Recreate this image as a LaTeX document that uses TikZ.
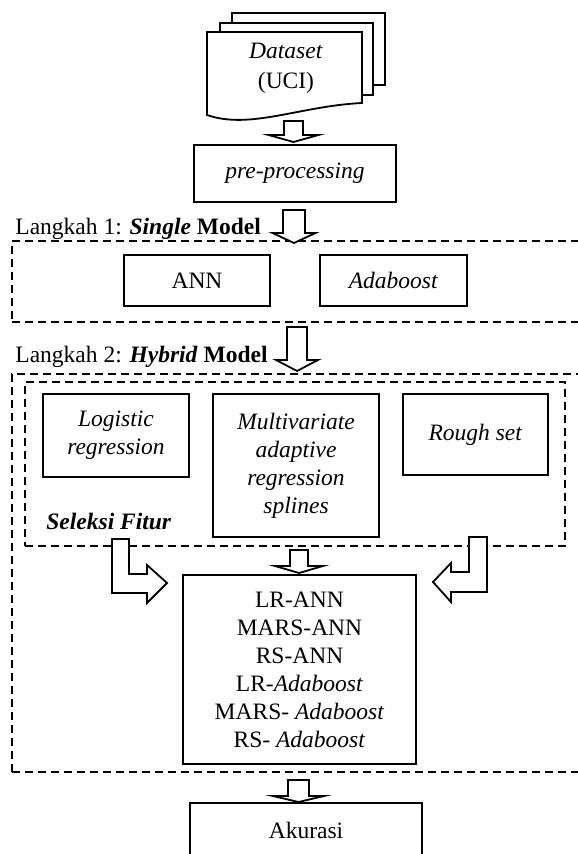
\documentclass[tikz,border=0pt]{standalone}
\usepackage{fontspec}
\setmainfont{Liberation Serif}
\usetikzlibrary{calc}

\newcommand\fs{\fontsize{11.75}{14}\selectfont}

% hollow block arrow pointing down:
% #1 centre x, #2 top of shaft, #3 start of head, #4 tip, #5 half shaft width, #6 half head width
\newcommand\blockdown[6]{%
  \draw[blockarrow] (#1-#5,#2) -- (#1+#5,#2) -- (#1+#5,#3) -- (#1+#6,#3)
    -- (#1,#4) -- (#1-#6,#3) -- (#1-#5,#3) -- cycle;}

\tikzset{
  base/.style={line width=0.9pt},
  stepbox/.style={draw, base, fill=white, align=center, inner sep=0pt, font=\fs},
  groupbox/.style={draw, base, dash pattern=on 4pt off 2.5pt, inner sep=0pt},
  blockarrow/.style={draw, base, fill=white, line join=miter},
  page/.style={draw, base, fill=white},
  label/.style={font=\fs, inner sep=0pt, anchor=base west},
}

\begin{document}
\begin{tikzpicture}[x=0.5pt, y=-0.5pt]
\useasboundingbox (0,0) rectangle (577,854);

% ---- stacked document: Dataset (UCI)
\draw[page] (232,13) rectangle (385,85);
\draw[page] (220,23) rectangle (373,95);
\draw[page] (207,32) -- (362,32) -- (362,103)
  .. controls (300,106) and (250,130) .. (207,115) -- cycle;
\node[font=\fs, align=center, inner sep=0pt] (data) at (286,68)
  {\textit{Dataset}\\[1pt](UCI)};

% ---- pre-processing
\node[stepbox, minimum width=101pt, minimum height=28.5pt] (pre) at (295,173.5)
  {\textit{pre-processing}};

% ---- step 1: single models
\node[groupbox, minimum width=284pt, minimum height=40.5pt] (step1) at (296,281.5) {};
\node[label] (step1label) at (15,235)
  {Langkah 1: \textbf{\textit{Single} Model}};
\node[stepbox, minimum width=73pt, minimum height=25.5pt] (ann) at (197,280.5) {ANN};
\node[stepbox, minimum width=73.5pt, minimum height=25.5pt] (ada) at (393.5,280.5)
  {\textit{Adaboost}};

% ---- step 2: hybrid models
\node[groupbox, minimum width=284pt, minimum height=199pt] (step2) at (296,573) {};
\node[label] (step2label) at (15,363)
  {Langkah 2: \textbf{\textit{Hybrid} Model}};
\node[groupbox, minimum width=270pt, minimum height=82pt] (fs) at (295,464) {};
\node[label] (fslabel) at (46,529) {\textbf{\textit{Seleksi Fitur}}};

\node[stepbox, minimum width=73pt, minimum height=41.5pt] (lr) at (116,435.5)
  {\textit{Logistic}\\\textit{regression}};
\node[stepbox, minimum width=83pt, minimum height=71.5pt] (mars) at (296,465.5)
  {\textit{Multivariate}\\\textit{adaptive}\\\textit{regression}\\\textit{splines}};
\node[stepbox, minimum width=72.5pt, minimum height=40.5pt] (rs) at (475.5,434.5)
  {\textit{Rough set}};

\node[stepbox, minimum width=116.5pt, minimum height=94.5pt] (hyb) at (299.5,669.5)
  {LR-ANN\\MARS-ANN\\RS-ANN\\LR-\textit{Adaboost}\\MARS- \textit{Adaboost}\\RS- \textit{Adaboost}};

% ---- result
\node[stepbox, minimum width=116pt, minimum height=27pt] (acc) at (306,830) {Akurasi};

% ---- block arrows
\blockdown{293.5}{121}{135}{142}{9.5}{25}
\blockdown{294}{210}{233}{243}{11}{21.5}
\blockdown{297}{327}{360}{371}{10}{21}
\blockdown{299}{550}{566}{573}{9}{24}
\blockdown{298.5}{780}{796}{802}{10.5}{25.5}

% bent arrows from the feature-selection group into the hybrid models
\draw[blockarrow] (112,539) -- (129,539) -- (129,574) -- (147,574) -- (147,565)
  -- (167,583) -- (147,603) -- (147,593) -- (112,593) -- cycle;
\draw[blockarrow] (487,537) -- (469,537) -- (469,572) -- (451,572) -- (451,563)
  -- (433,582) -- (451,602) -- (451,592) -- (487,592) -- cycle;
\end{tikzpicture}
\end{document}
